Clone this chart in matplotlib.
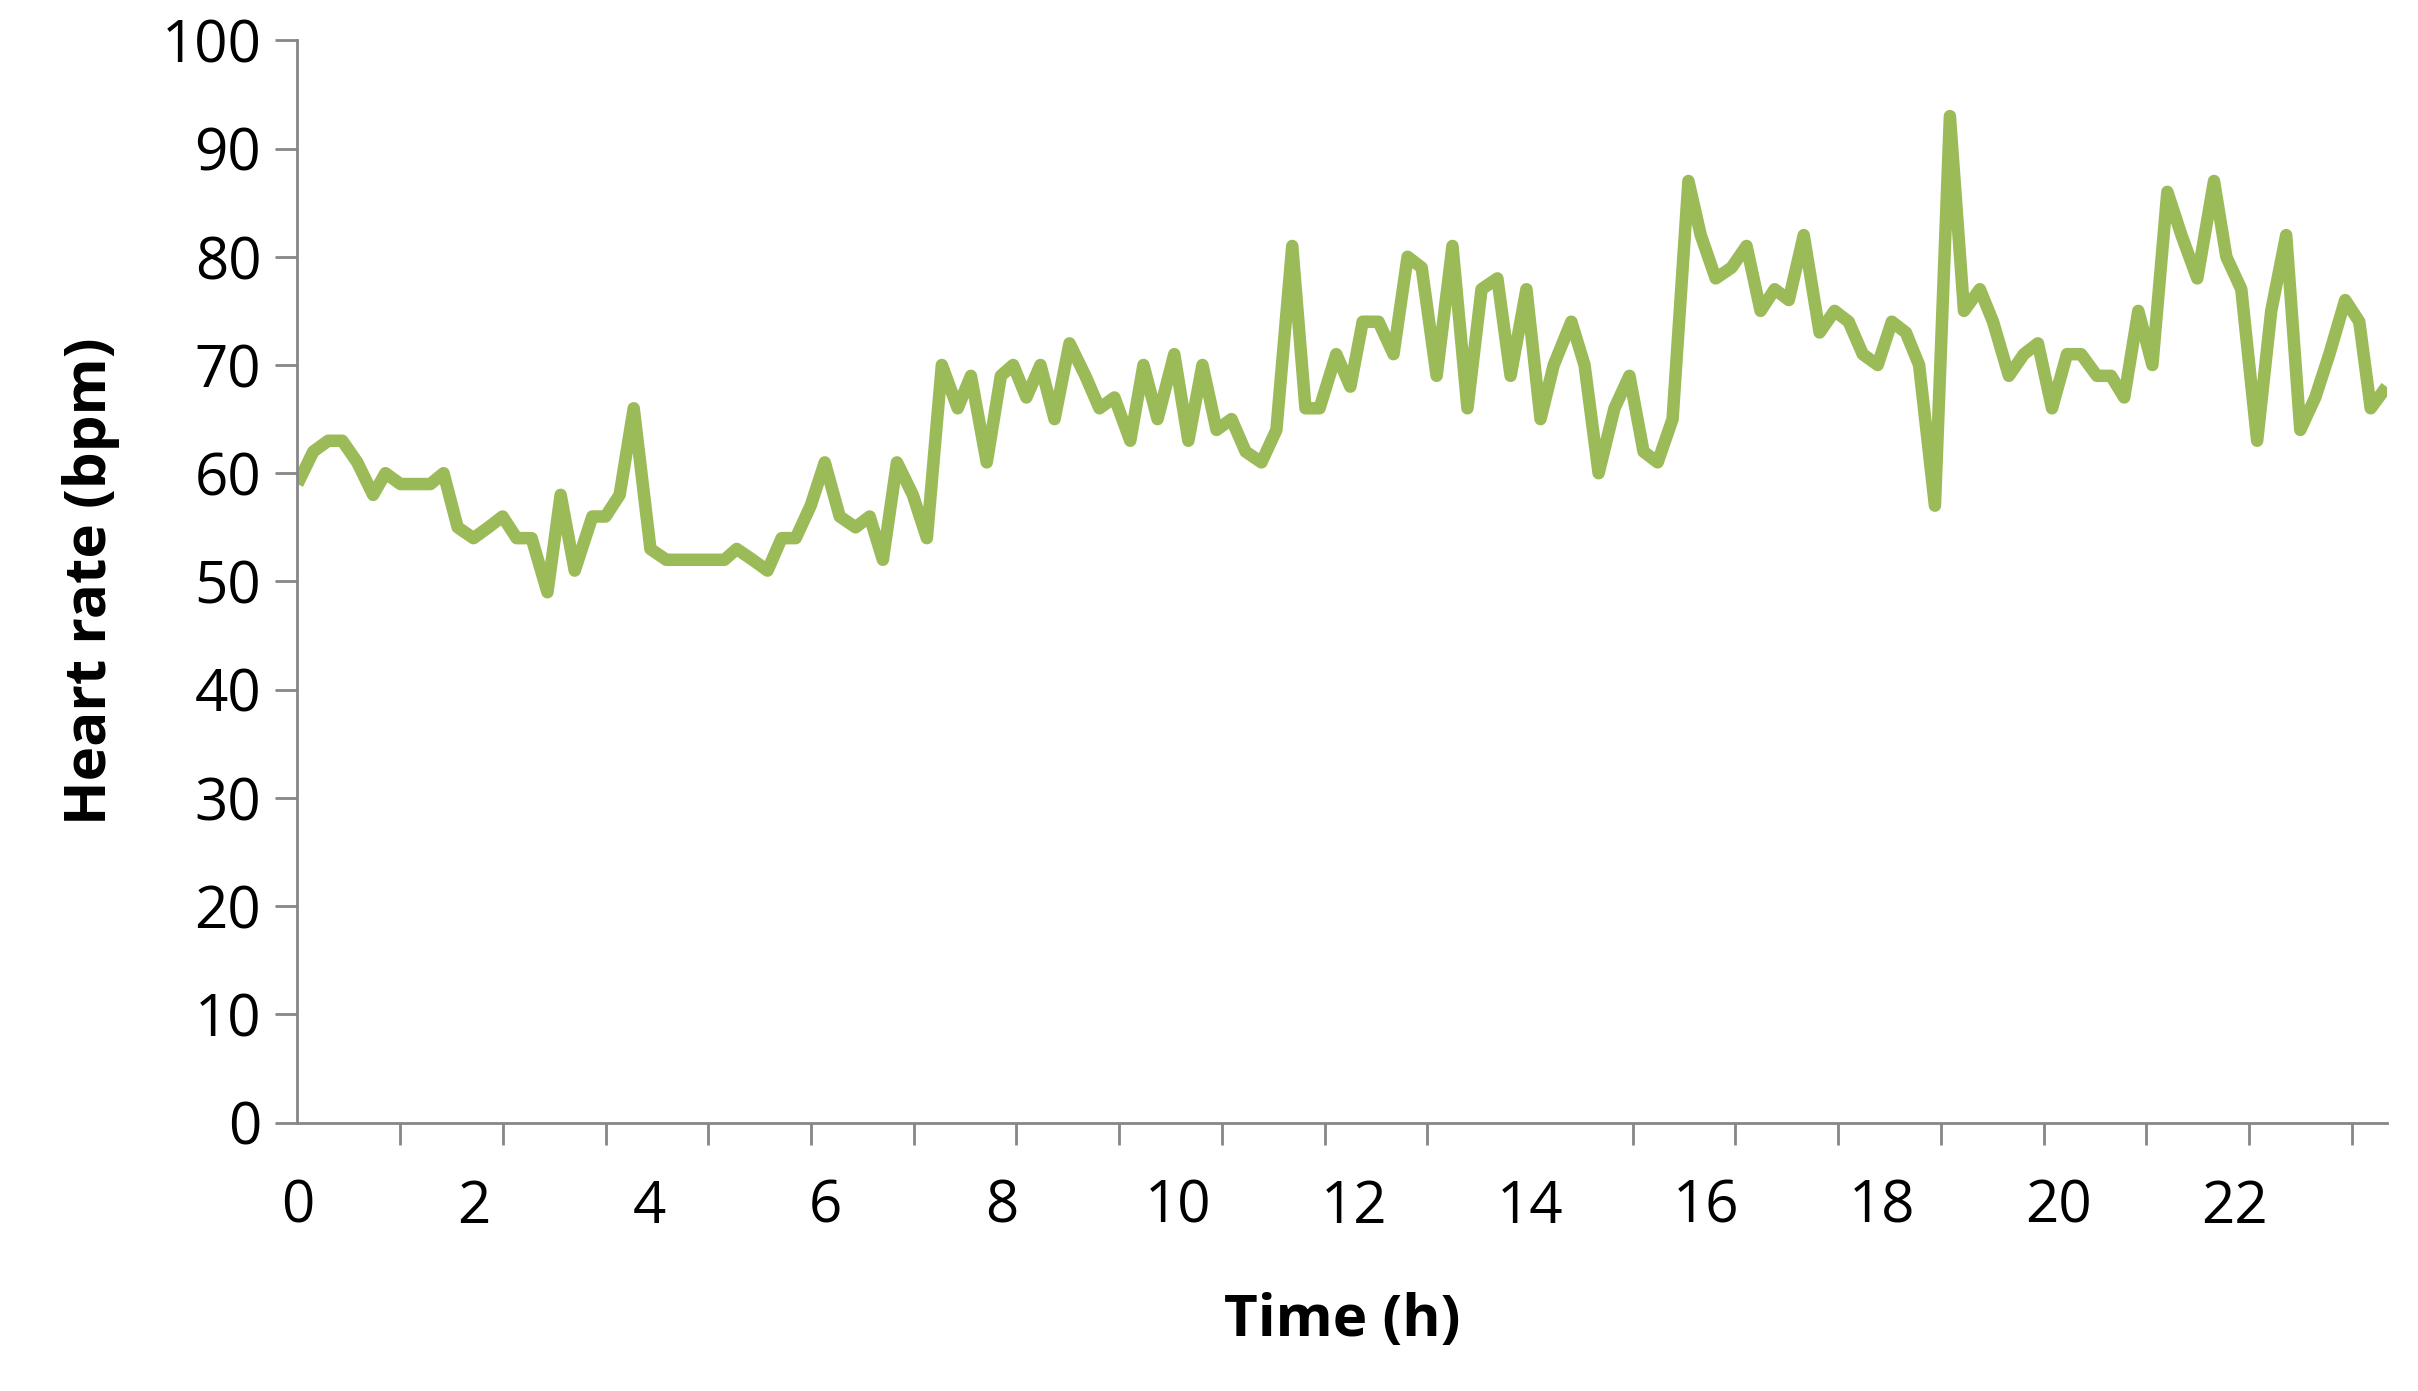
import numpy as np
import matplotlib
matplotlib.use("Agg")
import matplotlib.pyplot as plt
from matplotlib.ticker import MultipleLocator

hours = [0, .18, .35, .51, .68, .86, 1.0, 1.17, 1.51, 1.66, 1.82, 2.0, 2.17, 2.33, 2.49, 2.66,
         2.84, 2.99, 3.15, 3.35, 3.5, 3.66, 3.82, 4.01, 4.19, 4.68, 4.85, 4.99, 5.17, 5.34, 5.5,
         5.66, 5.83, 5.99, 6.16, 6.34, 6.5, 6.65, 6.81, 6.99, 7.15, 7.32, 7.5, 7.65, 7.83, 7.99,
         8.13, 8.28, 8.44, 8.6, 8.77, 8.95, 9.11, 9.28, 9.46, 9.61, 9.77, 9.96, 10.12, 10.28,
         10.44, 10.61, 10.77, 10.95, 11.12, 11.3, 11.45, 11.61, 11.8, 11.96, 12.1, 12.28, 12.45,
         12.61, 12.77, 12.94, 13.12, 13.29, 13.45, 13.63, 13.78, 13.96, 14.12, 14.27, 14.47,
         14.62, 14.78, 14.96, 15.13, 15.29, 15.45, 15.62, 15.8, 15.94, 16.11, 16.29, 16.46,
         16.62, 16.78, 16.94, 17.11, 17.29, 17.46, 17.62, 17.78, 17.95, 18.11, 18.27, 18.42,
         18.6, 18.77, 18.93, 19.11, 19.26, 19.44, 19.61, 19.77, 19.93, 20.1, 20.26, 20.44, 20.6,
         20.75, 20.91, 21.07, 21.24, 21.4, 21.58, 21.77, 21.91, 22.08, 22.26, 22.42, 22.59,
         22.75, 22.92, 23.08, 23.26, 23.42, 23.55, 23.73]
bpm = [59, 62, 63, 63, 61, 58, 60, 59, 59, 60, 55, 54, 55, 56, 54, 54,
       49, 58, 51, 56, 56, 58, 66, 53, 52, 52, 52, 53, 52, 51, 54,
       54, 57, 61, 56, 55, 56, 52, 61, 58, 54, 70, 66, 69, 61, 69,
       70, 67, 70, 65, 72, 69, 66, 67, 63, 70, 65, 71, 63, 70,
       64, 65, 62, 61, 64, 81, 66, 66, 71, 68, 74, 74, 71,
       80, 79, 69, 81, 66, 77, 78, 69, 77, 65, 70, 74,
       70, 60, 66, 69, 62, 61, 65, 87, 82, 78, 79, 81,
       75, 77, 76, 82, 73, 75, 74, 71, 70, 74, 73, 70,
       57, 93, 75, 77, 74, 69, 71, 72, 66, 71, 71, 69, 69,
       67, 75, 70, 86, 82, 78, 87, 80, 77, 63, 75, 82,
       64, 67, 71, 76, 74, 66, 68]

plt.rcParams["font.family"] = ["Open Sans", "DejaVu Sans"]
fig = plt.figure(figsize=(24.18, 13.91), dpi=100)
ax = fig.add_axes([0.123, 0.193, 0.864, 0.778])
ax.plot(hours, bpm, color="#9bbb59", linewidth=9, solid_joinstyle="round",
        solid_capstyle="butt")

ax.set_xlim(0, 23.73)
ax.set_ylim(0, 100)
ax.yaxis.set_major_locator(MultipleLocator(10))
ax.xaxis.set_major_locator(MultipleLocator(2))
ax.xaxis.set_minor_locator(MultipleLocator(7 / 6))
for s in ["top", "right"]:
    ax.spines[s].set_visible(False)
for s in ["left", "bottom"]:
    ax.spines[s].set_color("#868686")
    ax.spines[s].set_linewidth(2)
ax.tick_params(axis="x", which="major", length=0, labelsize=42, pad=40, colors="black")
ax.tick_params(axis="x", which="minor", length=16, width=2, color="#868686")
ax.tick_params(axis="y", length=16, width=2, color="#868686", labelsize=42, pad=10)
ax.set_xlabel("Time (h)", fontsize=42, fontweight="bold", labelpad=40)
ax.set_ylabel("Heart rate (bpm)", fontsize=42, fontweight="bold", labelpad=30)
fig.savefig("out.png", dpi=100)
